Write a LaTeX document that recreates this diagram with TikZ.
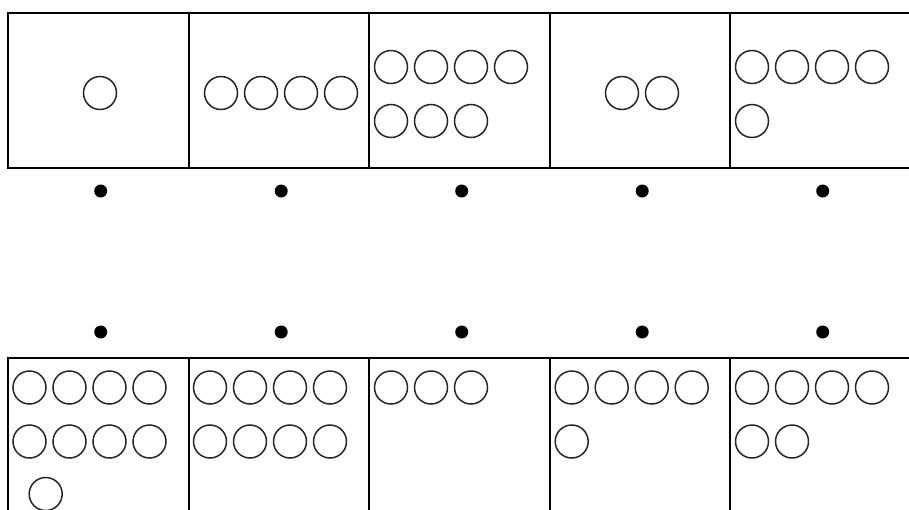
\documentclass[tikz,border=0pt]{standalone}
\usepackage{tikz}
\usetikzlibrary{calc}

\begin{document}
\begin{tikzpicture}[
x=1pt,y=-1pt,
cell/.style={draw,line width=2.4pt,anchor=north west,minimum width=180.5pt,minimum height=155pt,inner sep=0pt},
counter/.style={circle,draw=black!85,line width=1.5pt,minimum size=33pt,inner sep=0pt},
dot/.style={circle,fill=black,minimum size=13pt,inner sep=0pt}
]
\useasboundingbox (0,0) rectangle (909,509);
\clip (0,0) rectangle (909,509);
% frames and dots
\foreach \x/\w/\d [count=\i] in {7/180.5/100.7,187.5/180.5/281.2,368/180.5/461.7,548.5/180.5/642.2,729/190/822.7} {
  \node[cell,minimum width=\w pt] (top\i) at (\x,12) {};
  \node[cell,minimum width=\w pt,minimum height=200pt] (bot\i) at (\x,357) {};
  \node[dot] (tdot\i) at (\d,191) {};
  \node[dot] (bdot\i) at (\d,332) {};
}
% top row counters
\node[counter] (t1c1) at (100,93) {};
\foreach \x [count=\k] in {221,261,301,341} \node[counter] (t2c\k) at (\x,93) {};
\foreach \x [count=\k] in {391,431,471,511} \node[counter] (t3a\k) at (\x,67) {};
\foreach \x [count=\k] in {391,431,471} \node[counter] (t3b\k) at (\x,121) {};
\foreach \x [count=\k] in {622,662} \node[counter] (t4c\k) at (\x,93) {};
\foreach \x [count=\k] in {752,792,832,872} \node[counter] (t5a\k) at (\x,67) {};
\node[counter] (t5b1) at (752,121) {};
% bottom row counters
\foreach \x [count=\k] in {29.5,69.5,109.5,149.5} {
  \node[counter] (b1a\k) at (\x,387.5) {};
  \node[counter] (b1b\k) at (\x,441.5) {};
}
\node[counter] (b1c1) at (45.7,494) {};
\foreach \x [count=\k] in {210,250,290,330} {
  \node[counter] (b2a\k) at (\x,387.5) {};
  \node[counter] (b2b\k) at (\x,441.5) {};
}
\foreach \x [count=\k] in {391,431,471} \node[counter] (b3a\k) at (\x,387.5) {};
\foreach \x [count=\k] in {571.7,611.7,651.7,691.7} \node[counter] (b4a\k) at (\x,387.5) {};
\node[counter] (b4b1) at (571.7,441.5) {};
\foreach \x [count=\k] in {752,792,832,872} \node[counter] (b5a\k) at (\x,387.5) {};
\foreach \x [count=\k] in {752,792} \node[counter] (b5b\k) at (\x,441.5) {};
\end{tikzpicture}
\end{document}
